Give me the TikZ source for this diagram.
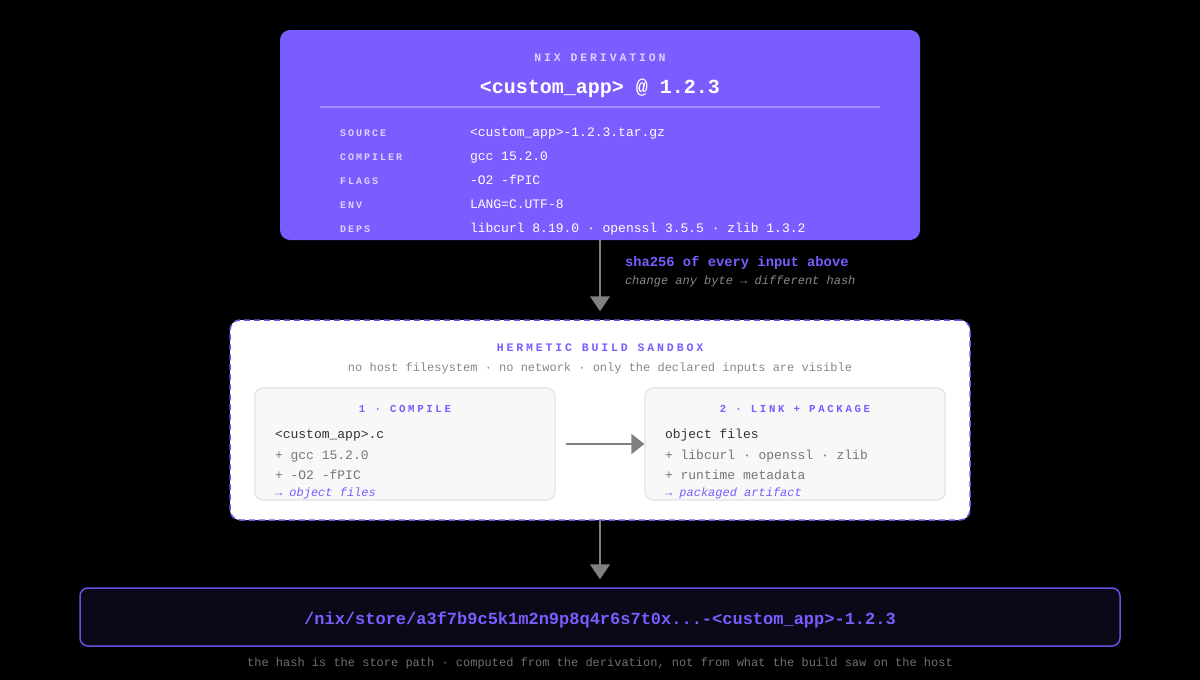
\documentclass[tikz,border=0pt]{standalone}
\usepackage{fontspec}
\setmainfont{Liberation Mono}
\setmonofont{Liberation Mono}
\newfontfamily\mono{Liberation Mono}
\newfontfamily\monols[LetterSpace=25]{Liberation Mono}
\newfontfamily\monolss[LetterSpace=20]{Liberation Mono}
\usetikzlibrary{arrows.meta}
\definecolor{topfill}{HTML}{7B5CFF}
\definecolor{labelc}{HTML}{DAD2FF}
\definecolor{sepc}{HTML}{A08CFF}
\definecolor{arrowc}{HTML}{808080}
\definecolor{purp}{HTML}{7B5CFF}
\definecolor{grayit}{HTML}{888888}
\definecolor{sandb}{HTML}{6E52E8}
\definecolor{innerfill}{HTML}{F8F8F8}
\definecolor{innerdraw}{HTML}{E3E3E3}
\definecolor{darkt}{HTML}{333333}
\definecolor{grayt}{HTML}{777777}
\definecolor{botfill}{HTML}{0B0818}
\definecolor{botdraw}{HTML}{6A50E0}
\definecolor{footc}{HTML}{707070}
\tikzset{
  txt/.style={inner sep=0pt, outer sep=0pt},
  box/.style={inner sep=0pt, rounded corners=10pt},
  conn/.style={draw=arrowc, line width=1.5pt, -{Triangle[width=20pt,length=15pt]}},
  lab/.style={txt, anchor=base west, text=labelc, font=\monolss\bfseries\fontsize{10}{12}\selectfont},
  val/.style={txt, anchor=base west, text=white, font=\mono\fontsize{13}{15}\selectfont},
  ititle/.style={txt, anchor=base, text=purp, font=\monols\bfseries\fontsize{10.7}{12}\selectfont},
  iline/.style={txt, anchor=base west, text=grayt, font=\mono\fontsize{13}{15}\selectfont},
}
\begin{document}
\begin{tikzpicture}[x=1pt,y=-1pt]
\fill[black] (0,0) rectangle (1200,680);
\useasboundingbox (0,0) rectangle (1200,680);

% top derivation box
\node[box, fill=topfill, minimum width=640pt, minimum height=210pt] (deriv) at (600,135) {};
\node[txt, anchor=base, text=labelc, font=\monols\bfseries\fontsize{11.5}{13}\selectfont] (dtitle) at (600,61) {NIX DERIVATION};
\node[txt, anchor=base, text=white, font=\mono\bfseries\fontsize{20}{24}\selectfont] (dname) at (600,93) {<custom\_app> @ 1.2.3};
\coordinate (sepL) at (320,107);
\coordinate (sepR) at (880,107);
\draw[sepc, line width=1.5pt] (sepL) -- (sepR);
\node[lab] (l1) at (340,136) {SOURCE};
\node[lab] (l2) at (340,160) {COMPILER};
\node[lab] (l3) at (340,184) {FLAGS};
\node[lab] (l4) at (340,208) {ENV};
\node[lab] (l5) at (340,232) {DEPS};
\node[val] (v1) at (470,136) {<custom\_app>-1.2.3.tar.gz};
\node[val] (v2) at (470,160) {gcc 15.2.0};
\node[val] (v3) at (470,184) {-O2 -fPIC};
\node[val] (v4) at (470,208) {LANG=C.UTF-8};
\node[val] (v5) at (470,232) {libcurl 8.19.0 · openssl 3.5.5 · zlib 1.3.2};

% hash note
\node[txt, anchor=base west, text=purp, font=\mono\bfseries\fontsize{13.8}{16}\selectfont] (sha) at (625,266) {sha256 of every input above};
\node[txt, anchor=base west, text=grayit, font=\mono\itshape\fontsize{12}{14}\selectfont] (chg) at (625,284) {change any byte → different hash};

% sandbox
\node[box, fill=white, draw=sandb, line width=1.5pt, dash pattern=on 6pt off 4pt, minimum width=740pt, minimum height=200pt] (sand) at (600,420) {};
\node[txt, anchor=base, text=purp, font=\monols\bfseries\fontsize{11.5}{13}\selectfont] (stitle) at (600,351) {HERMETIC BUILD SANDBOX};
\node[txt, anchor=base, text=grayit, font=\mono\fontsize{12}{14}\selectfont] (ssub) at (600,371) {no host filesystem · no network · only the declared inputs are visible};

% inner boxes
\node[inner sep=0pt, rounded corners=8pt, fill=innerfill, draw=innerdraw, line width=1.2pt, minimum width=300pt, minimum height=112pt] (comp) at (405,444) {};
\node[inner sep=0pt, rounded corners=8pt, fill=innerfill, draw=innerdraw, line width=1.2pt, minimum width=300pt, minimum height=112pt] (link) at (795,444) {};

\node[ititle] (ct) at (405,412) {1 · COMPILE};
\node[iline, text=darkt] (c1) at (275,438) {<custom\_app>.c};
\node[iline] (c2) at (275,459) {+ gcc 15.2.0};
\node[iline] (c3) at (275,479) {+ -O2 -fPIC};
\node[iline, text=purp, font=\mono\itshape\fontsize{12}{14}\selectfont] (c4) at (275,496) {→ object files};

\node[ititle] (lt) at (795,412) {2 · LINK + PACKAGE};
\node[iline, text=darkt] (k1) at (665,438) {object files};
\node[iline] (k2) at (665,459) {+ libcurl · openssl · zlib};
\node[iline] (k3) at (665,479) {+ runtime metadata};
\node[iline, text=purp, font=\mono\itshape\fontsize{12}{14}\selectfont] (k4) at (665,496) {→ packaged artifact};

% store path
\node[inner sep=0pt, rounded corners=8pt, fill=botfill, draw=botdraw, line width=1.5pt, minimum width=1040pt, minimum height=58pt] (store) at (600,617) {};
\node[txt, anchor=base, text=purp, font=\mono\bfseries\fontsize{17}{20}\selectfont] (spath) at (600,624) {/nix/store/a3f7b9c5k1m2n9p8q4r6s7t0x...-<custom\_app>-1.2.3};
\node[txt, anchor=base, text=footc, font=\mono\fontsize{12}{14}\selectfont] (foot) at (600,666) {the hash is the store path · computed from the derivation, not from what the build saw on the host};

% connectors
\draw[conn, shorten >=8pt] (deriv.south) -- (sand.north);
\draw[conn, -{Triangle[width=20pt,length=13pt]}, shorten <=10pt] (comp.east) -- (link.west);
\draw[conn, shorten >=8pt] (sand.south) -- (store.north);
\end{tikzpicture}
\end{document}
